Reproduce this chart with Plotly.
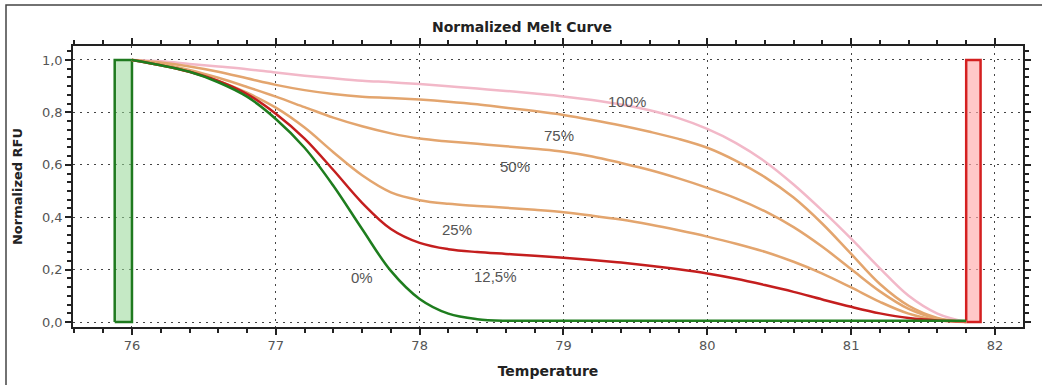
import plotly.graph_objects as go

temps = [76.0, 76.2, 76.4, 76.6, 76.8, 77.0, 77.2, 77.4, 77.6, 77.8,
         78.0, 78.2, 78.4, 78.6, 78.8, 79.0, 79.2, 79.4, 79.6, 79.8,
         80.0, 80.2, 80.4, 80.6, 80.8, 81.0, 81.2, 81.4, 81.6, 81.8]

rfu_100 = [1.0, 0.995, 0.985, 0.975, 0.965, 0.952, 0.94, 0.93, 0.921, 0.915,
           0.908, 0.90, 0.891, 0.882, 0.872, 0.861, 0.847, 0.83, 0.808, 0.778,
           0.737, 0.683, 0.613, 0.525, 0.425, 0.318, 0.205, 0.10, 0.032, 0.0]
rfu_75 = [1.0, 0.99, 0.975, 0.955, 0.93, 0.905, 0.885, 0.87, 0.86, 0.855,
          0.849, 0.841, 0.831, 0.818, 0.805, 0.79, 0.771, 0.75, 0.726, 0.699,
          0.665, 0.615, 0.553, 0.475, 0.375, 0.26, 0.145, 0.062, 0.016, 0.0]
rfu_50 = [1.0, 0.985, 0.962, 0.932, 0.897, 0.86, 0.82, 0.78, 0.747, 0.72,
          0.70, 0.689, 0.68, 0.671, 0.661, 0.65, 0.632, 0.607, 0.58, 0.548,
          0.512, 0.472, 0.423, 0.362, 0.287, 0.202, 0.117, 0.05, 0.013, 0.0]
rfu_25 = [1.0, 0.98, 0.955, 0.92, 0.875, 0.818, 0.742, 0.648, 0.56, 0.495,
          0.465, 0.451, 0.443, 0.436, 0.428, 0.419, 0.406, 0.391, 0.372, 0.35,
          0.326, 0.299, 0.268, 0.23, 0.185, 0.132, 0.077, 0.032, 0.008, 0.0]
rfu_12_5 = [1.0, 0.98, 0.955, 0.92, 0.87, 0.795, 0.70, 0.58, 0.455, 0.355,
            0.302, 0.278, 0.267, 0.26, 0.253, 0.245, 0.237, 0.227, 0.215, 0.201,
            0.185, 0.165, 0.141, 0.115, 0.086, 0.058, 0.033, 0.015, 0.006, 0.003]
rfu_0 = [1.0, 0.98, 0.955, 0.915, 0.86, 0.775, 0.665, 0.52, 0.355, 0.195,
         0.088, 0.032, 0.011, 0.005, 0.005, 0.005, 0.005, 0.005, 0.005, 0.005,
         0.005, 0.005, 0.005, 0.005, 0.005, 0.005, 0.005, 0.005, 0.005, 0.005]

# melt region markers (start / end bars)
start_bar = [75.88, 76.0]
end_bar = [81.80, 81.90]
bar_height = 1.0

labels = ["100%", "75%", "50%", "25%", "12,5%", "0%"]
label_x = [79.44, 78.97, 78.66, 78.26, 78.53, 77.60]
label_y = [0.84, 0.71, 0.595, 0.355, 0.175, 0.17]

x_ticks = [76, 77, 78, 79, 80, 81, 82]
y_ticks = [0.0, 0.2, 0.4, 0.6, 0.8, 1.0]

fig = go.Figure()

# start bar (green)
fig.add_trace(go.Scatter(
    x=[start_bar[0], start_bar[0], start_bar[1], start_bar[1], start_bar[0]],
    y=[0, bar_height, bar_height, 0, 0],
    fill="toself", fillcolor="rgba(150,215,150,0.55)",
    line=dict(color="#1f7a1f", width=2.5), mode="lines",
    showlegend=False, hoverinfo="skip"))
# end bar (red)
fig.add_trace(go.Scatter(
    x=[end_bar[0], end_bar[0], end_bar[1], end_bar[1], end_bar[0]],
    y=[0, bar_height, bar_height, 0, 0],
    fill="toself", fillcolor="rgba(255,170,170,0.65)",
    line=dict(color="#d42020", width=2.5), mode="lines",
    showlegend=False, hoverinfo="skip"))

series = [
    (rfu_100, "#f2b8c8"),
    (rfu_75, "#e3a56e"),
    (rfu_50, "#e3a56e"),
    (rfu_25, "#e3a56e"),
    (rfu_12_5, "#c41e1e"),
    (rfu_0, "#1e7d1e"),
]
for vals, col in series:
    fig.add_trace(go.Scatter(
        x=temps, y=vals, mode="lines",
        line=dict(color=col, width=2.5, shape="spline", smoothing=1.0),
        showlegend=False, hoverinfo="skip"))

for t, lx, ly in zip(labels, label_x, label_y):
    fig.add_annotation(x=lx, y=ly, text=t, showarrow=False,
                       font=dict(family="Liberation Sans, Arial", size=15, color="#555555"))

axis_common = dict(
    showline=True, linecolor="#222222", linewidth=1.5, mirror="ticks",
    ticks="outside", tickcolor="#222222", ticklen=6, tickwidth=1.5,
    showgrid=True, gridcolor="#444444", griddash="2px,5px", gridwidth=1.2,
    zeroline=False, automargin=False,
    tickfont=dict(family="DejaVu Sans", size=13, color="#555555"),
)

fig.update_xaxes(
    range=[75.59, 82.195], tickvals=x_ticks,
    minor=dict(dtick=0.2, tick0=76, ticklen=4, tickcolor="#222222", ticks="outside", showgrid=False),
    title=dict(text="<b>Temperature</b>", standoff=14,
               font=dict(family="DejaVu Sans", size=14, color="#222222")),
    **axis_common)
fig.update_yaxes(
    range=[-0.019, 1.0534], tickvals=y_ticks, tickformat=".1f",
    minor=dict(dtick=0.2 / 6, tick0=0, ticklen=4, tickcolor="#222222", ticks="outside", showgrid=False),
    title=dict(text="<b>Normalized RFU</b>", standoff=16,
               font=dict(family="DejaVu Sans", size=13, color="#222222")),
    **axis_common)

fig.add_shape(type="rect", xref="paper", yref="paper",
              x0=(6 - 73) / 950, x1=(1045 - 73) / 950,
              y0=-0.25, y1=1 + 41 / 281,
              line=dict(color="#444444", width=1.5), fillcolor="rgba(0,0,0,0)")

fig.update_layout(
    width=1042, height=385,
    margin=dict(l=73, r=19, t=46, b=58),
    paper_bgcolor="white", plot_bgcolor="white",
    separators=",.",
    title=dict(text="<b>Normalized Melt Curve</b>", x=522 / 1042,
               xanchor="center", y=1 - 27 / 385, yanchor="middle",
               font=dict(family="DejaVu Sans", size=14, color="#222222")),
)

fig.write_html("out.html")
